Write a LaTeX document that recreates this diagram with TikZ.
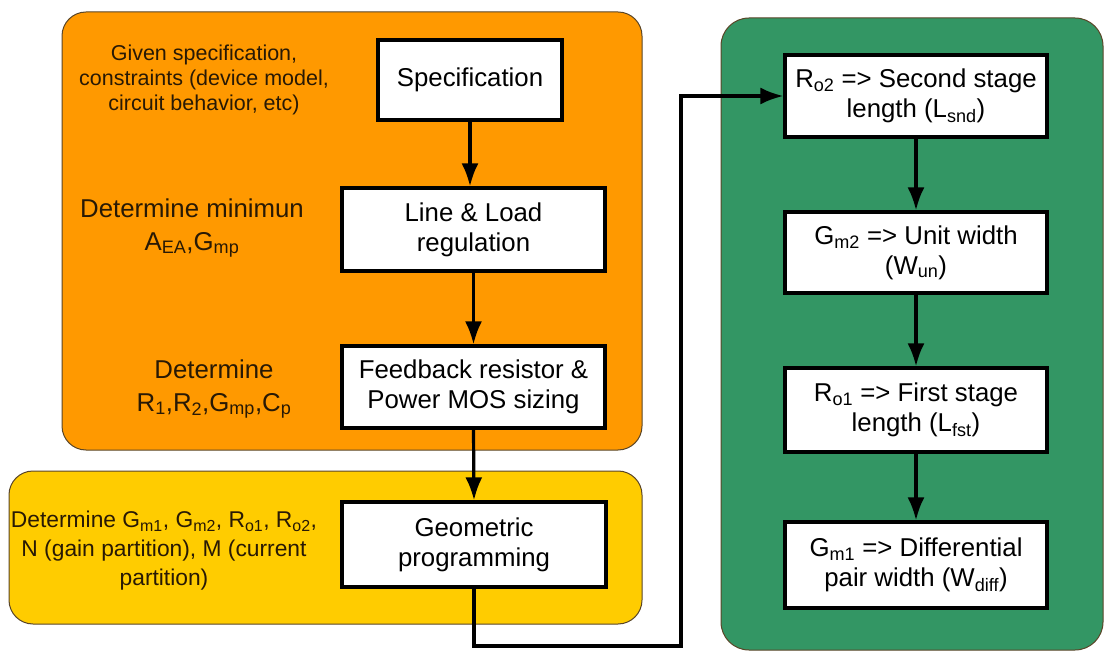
\documentclass[tikz,border=0pt]{standalone}
\usepackage{fontspec}
\setmainfont{Liberation Sans}
\usetikzlibrary{arrows.meta}
\newcommand\sbs[1]{\textsubscript{#1}}
\definecolor{panelorange}{RGB}{255,153,0}
\definecolor{panelyellow}{RGB}{255,204,0}
\definecolor{panelgreen}{RGB}{51,150,100}
\definecolor{paneledge}{RGB}{90,70,40}
\definecolor{lbltext}{RGB}{40,25,5}
\begin{document}
\begin{tikzpicture}[x=1pt,y=-1pt,
  panel/.style={draw=paneledge, line width=1pt, rounded corners=24pt},
  stepbox/.style={draw=black, fill=white, line width=3.2pt, align=center, inner sep=0pt,
    font=\fontsize{25.8}{30}\selectfont},
  lbl/.style={align=center, text=lbltext, inner sep=0pt},
  arr/.style={line width=3.2pt, -{Latex[length=23pt,width=17pt]}},
]
\useasboundingbox (0,0) rectangle (1106,652);
\fill[white] (0,0) rectangle (1106,652);

% panels
\draw[panel, fill=panelorange] (62,12) rectangle (642,450);
\draw[panel, fill=panelyellow] (9,471) rectangle (642,624);
\draw[panel, fill=panelgreen, rounded corners=28pt] (721,18) rectangle (1103,650);

% left column boxes
\node[stepbox, minimum width=184pt, minimum height=80pt] (spec) at (470,80) {Specification};
\node[stepbox, minimum width=263pt, minimum height=83pt] (line) at (473.5,229.5) {Line \& Load\\regulation};
\node[stepbox, minimum width=263pt, minimum height=82pt] (fb) at (473.5,387) {Feedback resistor \&\\Power MOS sizing};
\node[stepbox, minimum width=264pt, minimum height=85pt] (geo) at (474,544.5) {Geometric\\programming};

% right column boxes
\node[stepbox, minimum width=262pt, minimum height=82pt] (ro2) at (916,96) {R\sbs{o2} => Second stage\\length (L\sbs{snd})};
\node[stepbox, minimum width=262pt, minimum height=81pt] (gm2) at (916,252.5) {G\sbs{m2} => Unit width\\(W\sbs{un})};
\node[stepbox, minimum width=262pt, minimum height=84pt] (ro1) at (916,410) {R\sbs{o1} => First stage\\length (L\sbs{fst})};
\node[stepbox, minimum width=262pt, minimum height=86pt] (gm1) at (916,565) {G\sbs{m1} => Differential\\pair width (W\sbs{diff})};

% side labels
\node[lbl, font=\fontsize{21.5}{25}\selectfont] (l1) at (204,80) {Given specification,\\constraints (device model,\\circuit behavior, etc)};
\node[lbl, font=\fontsize{25.8}{33}\selectfont] (l2) at (192,228) {Determine minimun\\A\sbs{EA},G\sbs{mp}};
\node[lbl, font=\fontsize{25.8}{33}\selectfont] (l3) at (214,389) {Determine\\R\sbs{1},R\sbs{2},G\sbs{mp},C\sbs{p}};
\node[lbl, font=\fontsize{22.8}{29}\selectfont] (l4) at (164,551) {Determine G\sbs{m1}, G\sbs{m2}, R\sbs{o1}, R\sbs{o2},\\N (gain partition), M (current\\partition)};

% connectors
\draw[arr] (spec.south) -- (spec.south |- line.north);
\draw[arr] (line.south) -- (fb.north);
\draw[arr] (fb.south) -- (geo.north);
\coordinate (c1) at (681,646);
\draw[arr] (geo.south) |- (c1) |- (ro2.west);
\draw[arr] (ro2.south) -- (gm2.north);
\draw[arr] (gm2.south) -- (ro1.north);
\draw[arr] (ro1.south) -- (gm1.north);
\end{tikzpicture}
\end{document}
